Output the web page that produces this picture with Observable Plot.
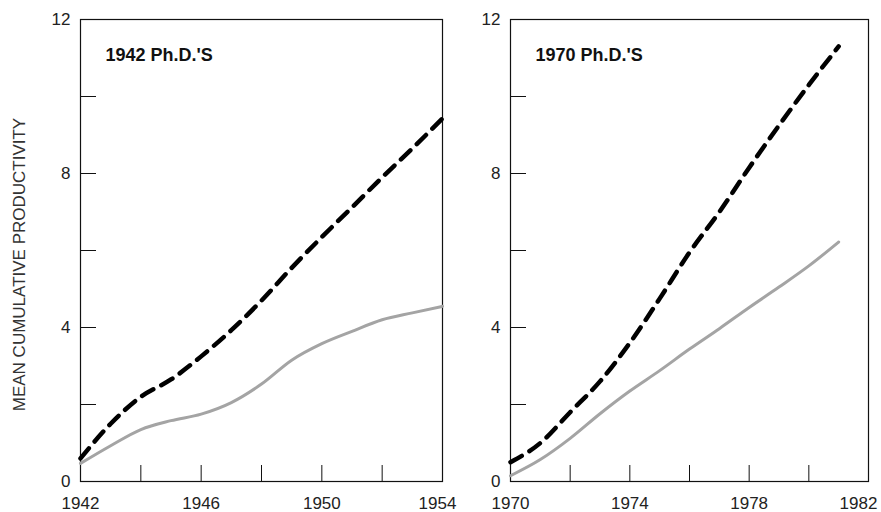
<!DOCTYPE html>
<html><head><meta charset="utf-8">
<script src="https://cdn.jsdelivr.net/npm/d3@7"></script>
<script src="https://cdn.jsdelivr.net/npm/@observablehq/plot@0.6"></script>
<style>
html,body{margin:0;padding:0;background:#fff;}
#chart{position:relative;width:881px;height:512px;overflow:hidden;background:#fff;}
#chart svg{position:absolute;top:0;overflow:visible;}
</style></head><body><div id="chart"></div>
<script>
// ---- data ----
const yTitle = "MEAN CUMULATIVE PRODUCTIVITY";

const title1942 = "1942 Ph.D.'S";
const years1942 = [1942,1943,1944,1945,1946,1947,1948,1949,1950,1951,1952,1953,1954];
const dashed1942 = [0.6,1.5,2.2,2.65,3.25,3.93,4.7,5.55,6.35,7.12,7.9,8.65,9.43];
const gray1942 = [0.47,0.93,1.35,1.58,1.75,2.05,2.53,3.15,3.58,3.9,4.2,4.38,4.55];
const xDomain1942 = [1942, 1954];
const xLabels1942 = [1942, 1946, 1950];
const xLastLabel1942 = [1954];
const xTicks1942 = [1944, 1946, 1948, 1950, 1952];

const title1970 = "1970 Ph.D.'S";
const years1970 = [1970,1971,1972,1973,1974,1975,1976,1977,1978,1979,1980,1981];
const dashed1970 = [0.5,1.0,1.8,2.6,3.6,4.75,5.95,7.0,8.15,9.25,10.3,11.3];
const gray1970 = [0.15,0.57,1.12,1.76,2.35,2.88,3.44,3.97,4.52,5.05,5.6,6.22];
const xDomain1970 = [1970, 1982];
const xLabels1970 = [1970, 1974, 1978];
const xLastLabel1970 = [1982];
const xTicks1970 = [1972, 1974, 1976, 1978, 1980];

const yDomain = [0, 12];
const yLabels = [0, 4, 8, 12];
const yTicks = [2, 4, 6, 8, 10];

// ---- drawing ----
const FONT = "'Liberation Sans', Arial, Helvetica, sans-serif";

function panel({years, dashed, gray, title, xDomain, xLabels, xLastLabel, lastShift, xTicks, width, marginLeft, marginRight, showYTitle}) {
  const grayRows = years.map((yr, i) => ({year: yr, value: gray[i]}));
  const dashRows = years.map((yr, i) => ({year: yr, value: dashed[i]}));
  const marks = [
    Plot.frame({stroke: "#111", strokeWidth: 1.2}),
    Plot.axisY(yLabels, {tickSize: 0, tickPadding: 10, tickFormat: d => String(d), label: null, fill: "#222", fontSize: 17}),
    Plot.axisY(yTicks, {tickSize: 16, dx: 16, tickFormat: () => "", label: null, stroke: "#111"}),
    Plot.axisX(xLabels, {tickSize: 0, tickPadding: 15, tickFormat: d => String(d), label: null, fill: "#222", fontSize: 17}),
    Plot.axisX(xLastLabel, {tickSize: 0, tickPadding: 15, dx: lastShift, tickFormat: d => String(d), label: null, fill: "#222", fontSize: 17}),
    Plot.axisX(xTicks, {tickSize: 16, dy: -16, tickFormat: () => "", label: null, stroke: "#111"}),
    Plot.line(grayRows, {x: "year", y: "value", stroke: "#a4a4a4", strokeWidth: 3, curve: "monotone-x"}),
    Plot.line(dashRows, {x: "year", y: "value", stroke: "#000", strokeWidth: 4.5, strokeDasharray: "13,9", curve: "monotone-x"}),
    Plot.text([title], {frameAnchor: "top-left", dx: 25, dy: 36, text: d => d, textAnchor: "start", lineAnchor: "middle", fontSize: 18, fontWeight: "bold", fill: "#111"})
  ];
  if (showYTitle) {
    marks.push(Plot.text([yTitle], {frameAnchor: "left", dx: -60.5, dy: 14, rotate: -90, text: d => d, fontSize: 17, fill: "#333", textAnchor: "middle", lineAnchor: "middle"}));
  }
  return Plot.plot({
    width, height: 512,
    marginLeft, marginRight, marginTop: 19, marginBottom: 31,
    style: {fontFamily: FONT, fontSize: "17px", background: "transparent", color: "#222"},
    x: {domain: xDomain, label: null},
    y: {domain: yDomain, label: null},
    marks
  });
}

const left = panel({years: years1942, dashed: dashed1942, gray: gray1942, title: title1942,
  xDomain: xDomain1942, xLabels: xLabels1942, xLastLabel: xLastLabel1942, lastShift: -5, xTicks: xTicks1942,
  width: 460, marginLeft: 80, marginRight: 18, showYTitle: true});
left.style.left = "0px";

const right = panel({years: years1970, dashed: dashed1970, gray: gray1970, title: title1970,
  xDomain: xDomain1970, xLabels: xLabels1970, xLastLabel: xLastLabel1970, lastShift: -10, xTicks: xTicks1970,
  width: 441, marginLeft: 70, marginRight: 13, showYTitle: false});
right.style.left = "440px";

const chart = document.getElementById("chart");
chart.appendChild(left);
chart.appendChild(right);
</script>
</body></html>
